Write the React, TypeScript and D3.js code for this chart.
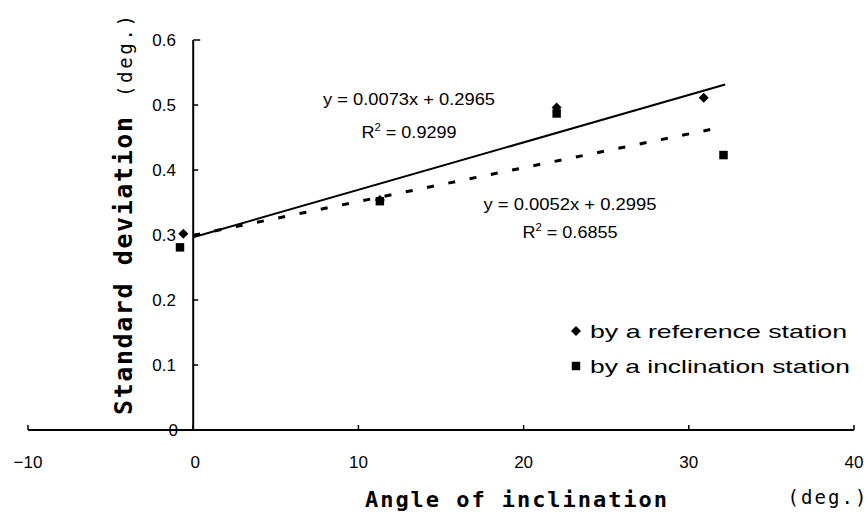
import React from "react";
import * as d3 from "d3";

const xTicks = [-10, 0, 10, 20, 30, 40];
const yTicks = [0, 0.1, 0.2, 0.3, 0.4, 0.5, 0.6];

const refX = [-0.6, 11.3, 22.0, 30.9];
const refY = [0.302, 0.354, 0.496, 0.511];
const inclX = [-0.8, 11.3, 22.0, 32.1];
const inclY = [0.281, 0.352, 0.487, 0.423];

const refTrend = { slope: 0.0073, intercept: 0.2965, x0: 0, x1: 32.2 };
const inclTrend = { slope: 0.0052, intercept: 0.2995, x0: 0, x1: 31.3 };

const refEq = "y = 0.0073x + 0.2965";
const refR2 = "0.9299";
const inclEq = "y = 0.0052x + 0.2995";
const inclR2 = "0.6855";

const legendLabels = ["by a reference station", "by a inclination station"];

export default function App() {
  const W = 868;
  const H = 513;
  const x = d3.scaleLinear().domain([-10, 40]).range([28, 854]);
  const y = d3.scaleLinear().domain([0, 0.6]).range([430, 40]);

  const trendPath = (t: typeof refTrend) =>
    d3
      .line<number>()
      .x((d) => x(d))
      .y((d) => y(t.slope * d + t.intercept))([t.x0, t.x1]) as string;

  const diamond = d3.symbol().type(d3.symbolSquare).size(50)() as string;
  const square = d3.symbol().type(d3.symbolSquare).size(72)() as string;

  const labelFont = "'Liberation Sans', Arial, sans-serif";
  const monoFont = "'DejaVu Sans Mono', monospace";

  const r2 = (cx: number, cy: number, val: string) => (
    <text x={cx} y={cy} textAnchor="middle" fontFamily={labelFont} fill="#000" textLength={95} lengthAdjust="spacingAndGlyphs">
      <tspan fontSize={16}>R</tspan>
      <tspan fontSize={10} dy={-7}>2</tspan>
      <tspan fontSize={16} dy={7}>{" = " + val}</tspan>
    </text>
  );

  return (
    <svg
      width={W}
      height={H}
      style={{ position: "absolute", left: 0, top: 0, background: "#fff" }}
    >
      {/* axes */}
      <line x1={x(-10)} x2={x(40)} y1={y(0)} y2={y(0)} stroke="#000" strokeWidth={2} />
      <line x1={x(0)} x2={x(0)} y1={y(0)} y2={y(0.6)} stroke="#000" strokeWidth={2} />
      {xTicks.map((t) => (
        <g key={"xt" + t}>
          <line x1={x(t)} x2={x(t)} y1={y(0)} y2={y(0) - 5} stroke="#000" strokeWidth={1.5} />
          <text
            x={x(t) + (t === 0 ? 2 : 0)}
            y={468}
            textAnchor="middle"
            fontFamily={labelFont}
            fontSize={17}
            fill="#000"
          >
            {t < 0 ? "\u2212" + Math.abs(t) : t}
          </text>
        </g>
      ))}
      {yTicks.map((t) => (
        <g key={"yt" + t}>
          <line x1={x(0)} x2={x(0) + (t === 0.6 ? 7 : 5)} y1={y(t)} y2={y(t)} stroke="#000" strokeWidth={1.5} />
          <text
            x={t === 0 ? 178 : 176}
            y={y(t) + 6}
            textAnchor="end"
            fontFamily={labelFont}
            fontSize={17}
            fill="#000"
          >
            {t === 0 ? "0" : t.toFixed(1)}
          </text>
        </g>
      ))}

      {/* trend lines */}
      <path d={trendPath(refTrend)} stroke="#000" strokeWidth={2} fill="none" />
      <path
        d={trendPath(inclTrend)}
        stroke="#000"
        strokeWidth={3}
        fill="none"
        strokeDasharray="7 14.7"
      />

      {/* points */}
      {inclX.map((v, i) => (
        <path key={"s" + i} d={square} transform={`translate(${x(v)},${y(inclY[i])})`} fill="#000" />
      ))}
      {refX.map((v, i) => (
        <path key={"d" + i} d={diamond} transform={`translate(${x(v)},${y(refY[i])}) rotate(45)`} fill="#000" />
      ))}

      {/* equations */}
      <text x={409} y={105} textAnchor="middle" fontFamily={labelFont} fontSize={16} fill="#000" textLength={172} lengthAdjust="spacingAndGlyphs">
        {refEq}
      </text>
      {r2(409, 138, refR2)}
      <text x={570} y={210} textAnchor="middle" fontFamily={labelFont} fontSize={16} fill="#000" textLength={173} lengthAdjust="spacingAndGlyphs">
        {inclEq}
      </text>
      {r2(570, 238, inclR2)}

      {/* legend */}
      <path d={diamond} transform={`translate(576,331) rotate(45)`} fill="#000" />
      <text x={590} y={338} fontFamily={labelFont} fontSize={19} fill="#000" textLength={257} lengthAdjust="spacingAndGlyphs">
        {legendLabels[0]}
      </text>
      <path d={square} transform={`translate(576,366)`} fill="#000" />
      <text x={590} y={373} fontFamily={labelFont} fontSize={19} fill="#000" textLength={260} lengthAdjust="spacingAndGlyphs">
        {legendLabels[1]}
      </text>

      {/* axis titles */}
      <text
        transform="translate(132,266) rotate(-90)"
        textAnchor="middle"
        fontFamily={monoFont}
        fontWeight="bold"
        fontSize={25}
        fill="#000"
        textLength={298}
        lengthAdjust="spacing"
      >
        Standard deviation
      </text>
      <text
        transform="translate(132,56) rotate(-90)"
        textAnchor="middle"
        fontFamily={monoFont}
        fontSize={19}
        fill="#000"
        textLength={82}
        lengthAdjust="spacing"
      >
        (deg.)
      </text>
      <text
        x={516}
        y={507}
        textAnchor="middle"
        fontFamily={monoFont}
        fontWeight="bold"
        fontSize={22}
        fill="#000"
        textLength={302}
        lengthAdjust="spacing"
      >
        Angle of inclination
      </text>
      <text
        x={827}
        y={504}
        textAnchor="middle"
        fontFamily={monoFont}
        fontSize={19}
        fill="#000"
        textLength={79}
        lengthAdjust="spacing"
      >
        (deg.)
      </text>
    </svg>
  );
}
